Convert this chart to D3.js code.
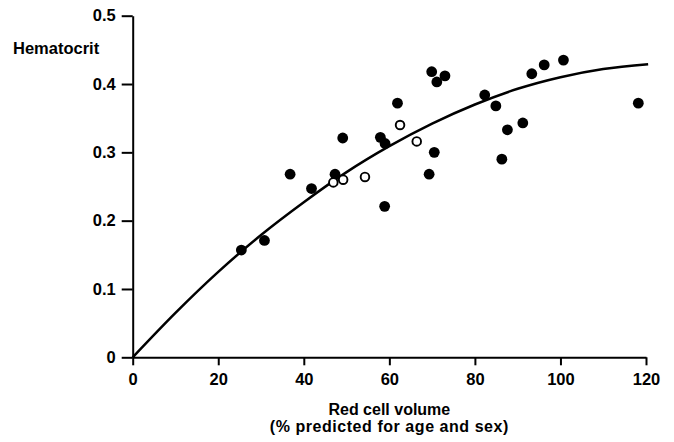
<!DOCTYPE html>
<html>
<head>
<meta charset="utf-8">
<script src="https://cdn.jsdelivr.net/npm/d3@7/dist/d3.min.js"></script>
<style>
  html, body { margin: 0; padding: 0; background: #fff; }
  svg { display: block; }
</style>
</head>
<body>
<svg id="chart" width="674" height="442"></svg>
<script>
// ── data ───────────────────────────────────────────────────────────────────
// red cell volume (% predicted) vs hematocrit
var filledX = [25.4, 30.8, 36.8, 41.8, 47.3, 49.1, 57.9, 59.0, 58.9, 61.9, 69.9, 73.0,
               71.1, 70.5, 69.3, 82.3, 84.9, 87.6, 86.3, 91.2, 93.3, 96.2, 100.7, 118.2];
var filledY = [0.157, 0.171, 0.268, 0.247, 0.268, 0.321, 0.322, 0.313, 0.221, 0.372, 0.418, 0.412,
               0.403, 0.300, 0.268, 0.384, 0.368, 0.333, 0.290, 0.343, 0.415, 0.428, 0.435, 0.372];

var openX = [46.9, 49.2, 54.3, 62.5, 66.4];
var openY = [0.256, 0.260, 0.264, 0.340, 0.316];

// fitted curve
var curveX = [0, 10, 20, 30, 40, 50, 60, 70, 80, 90, 100, 110, 120.5];
var curveY = [0, 0.065, 0.125, 0.179, 0.227, 0.271, 0.309, 0.342, 0.370, 0.393, 0.410, 0.422, 0.429];

var xTicks = [0, 20, 40, 60, 80, 100, 120];
var yTicks = [0, 0.1, 0.2, 0.3, 0.4, 0.5];

// ── scales ─────────────────────────────────────────────────────────────────
var font = '"Liberation Sans", Arial, Helvetica, sans-serif';
var svg = d3.select('#chart');

var x = d3.scaleLinear().domain([0, 120]).range([132.7, 646]);
var y = d3.scaleLinear().domain([0, 0.5]).range([357.3, 15.7]);

// ── axes ───────────────────────────────────────────────────────────────────
var xAxis = svg.append('g')
    .attr('transform', 'translate(0,' + y(0) + ')')
    .call(d3.axisBottom(x).tickValues(xTicks).tickSize(8).tickSizeOuter(0).tickPadding(8)
        .tickFormat(d3.format('d')));

var yAxis = svg.append('g')
    .attr('transform', 'translate(' + x(0) + ',0)')
    .call(d3.axisLeft(y).tickValues(yTicks).tickSize(11).tickSizeOuter(0).tickPadding(6)
        .tickFormat(function (d) { return d === 0 ? '0' : d3.format('.1f')(d); }));

[xAxis, yAxis].forEach(function (g) {
    g.select('.domain').attr('stroke', '#000').attr('stroke-width', 2);
    g.selectAll('.tick line').attr('stroke', '#000').attr('stroke-width', 2);
    g.selectAll('.tick text')
        .attr('fill', '#000')
        .attr('font-family', font)
        .attr('font-weight', 'bold');
});
xAxis.selectAll('.tick text').attr('font-size', '16.5px');
yAxis.selectAll('.tick text').attr('font-size', '16.5px');

// ── axis titles ────────────────────────────────────────────────────────────
svg.append('text')
    .attr('x', 13).attr('y', 53.5)
    .attr('font-family', font).attr('font-weight', 'bold').attr('font-size', '16.5px')
    .text('Hematocrit');

var xMid = (x.range()[0] + x.range()[1]) / 2;
svg.append('text')
    .attr('x', xMid).attr('y', 415)
    .attr('text-anchor', 'middle')
    .attr('font-family', font).attr('font-weight', 'bold').attr('font-size', '16px')
    .text('Red cell volume');
svg.append('text')
    .attr('x', xMid).attr('y', 432)
    .attr('text-anchor', 'middle')
    .attr('font-family', font).attr('font-weight', 'bold').attr('font-size', '16px')
    .attr('letter-spacing', '0.55px')
    .text('(% predicted for age and sex)');

// ── curve ──────────────────────────────────────────────────────────────────
var line = d3.line()
    .x(function (d, i) { return x(curveX[i]); })
    .y(function (d, i) { return y(curveY[i]); })
    .curve(d3.curveMonotoneX);

svg.append('path')
    .attr('d', line(curveX))
    .attr('fill', 'none')
    .attr('stroke', '#000')
    .attr('stroke-width', 2.5);

// ── points ─────────────────────────────────────────────────────────────────
svg.append('g').selectAll('circle')
    .data(filledX)
    .enter().append('circle')
    .attr('cx', function (d) { return x(d); })
    .attr('cy', function (d, i) { return y(filledY[i]); })
    .attr('r', 5.4)
    .attr('fill', '#000');

svg.append('g').selectAll('circle')
    .data(openX)
    .enter().append('circle')
    .attr('cx', function (d) { return x(d); })
    .attr('cy', function (d, i) { return y(openY[i]); })
    .attr('r', 4.3)
    .attr('fill', '#fff')
    .attr('stroke', '#000')
    .attr('stroke-width', 1.9);
</script>
</body>
</html>
